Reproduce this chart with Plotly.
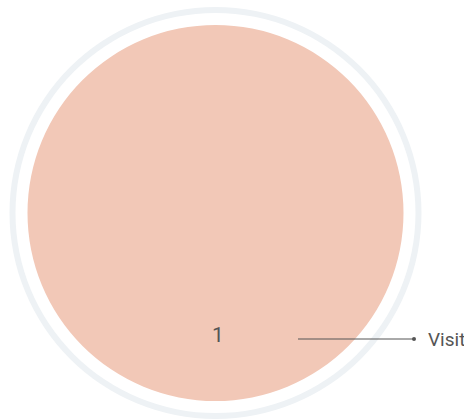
import plotly.graph_objects as go

labels = ["Visit"]
values = [1]

W, H = 464, 420
cx, cy = 215.5, 207          # centre, px from left / bottom
r_pie = 188
r_ring_out, r_ring_in = 206, 200

FONT = "Roboto, sans-serif"


def dom(r):
    return dict(x=[(cx - r) / W, (cx + r) / W], y=[(cy - r) / H, (cy + r) / H])


fig = go.Figure()

# outer thin ring
fig.add_trace(go.Pie(
    labels=[""], values=[1],
    hole=r_ring_in / r_ring_out,
    domain=dom(r_ring_out),
    marker=dict(colors=["#eef2f5"], line=dict(width=0)),
    textinfo="none", hoverinfo="skip", sort=False, showlegend=False,
))

# main pie
fig.add_trace(go.Pie(
    labels=labels, values=values,
    domain=dom(r_pie),
    marker=dict(colors=["#f2c8b7"], line=dict(width=0)),
    textinfo="none", hoverinfo="label+value", sort=False, showlegend=False,
))

# value label inside
fig.add_annotation(
    x=218 / W, y=(H - 335) / H, xref="paper", yref="paper",
    text=str(values[0]), showarrow=False,
    xanchor="center", yanchor="middle",
    font=dict(family=FONT, size=21, color="#555555"),
)

# category label with leader line
fig.add_annotation(
    x=298 / W, y=(H - 339) / H, xref="paper", yref="paper",
    text=labels[0], showarrow=True,
    ax=128, ay=0, axref="pixel", ayref="pixel",
    xanchor="left", yanchor="middle",
    arrowhead=0, arrowwidth=1, arrowcolor="#555555",
    arrowside="end+start", startarrowhead=6, startarrowsize=1,
    startstandoff=12,
    font=dict(family=FONT, size=19, color="#555555"),
)

fig.update_layout(
    width=W, height=H,
    margin=dict(l=0, r=0, t=0, b=0),
    paper_bgcolor="white",
    plot_bgcolor="white",
)

fig.write_html("out.html", config={"displayModeBar": False},
               post_script="document.body.style.margin='0';")
